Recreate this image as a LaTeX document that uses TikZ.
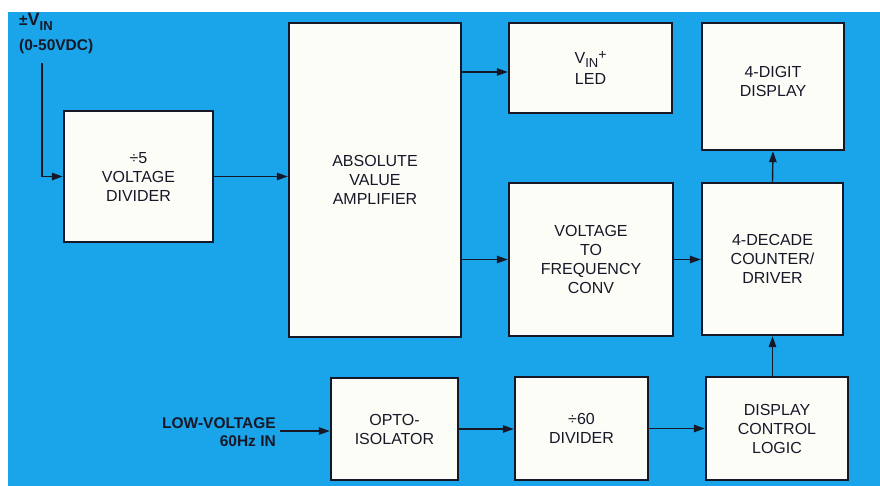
\documentclass[tikz,border=0pt]{standalone}
\usepackage{fontspec}
\setmainfont{Liberation Sans}
\usetikzlibrary{arrows.meta}
\definecolor{bgblue}{RGB}{26,165,234}
\definecolor{ink}{RGB}{22,24,40}
\definecolor{paper}{RGB}{253,253,248}
\begin{document}
\begin{tikzpicture}[x=1pt,y=-1pt,
  blk/.style={draw=ink, line width=2.4pt, fill=paper, rectangle, align=center,
    inner sep=0pt, text=ink, font=\fontsize{16}{19}\selectfont},
  arr/.style={draw=ink, line width=1.4pt, -{Triangle[length=11pt,width=7.5pt]}},
  lbl/.style={text=ink, inner sep=0pt, font=\bfseries\fontsize{15.5}{18.5}\selectfont}]
\useasboundingbox (0,0) rectangle (880,486);
\fill[white] (0,0) rectangle (880,486);
\fill[bgblue] (8,12) rectangle (880,486);

\node[blk, minimum width=149pt, minimum height=131pt] (div5) at (138.5,176.5) {÷5\\VOLTAGE\\DIVIDER};
\node[blk, minimum width=172pt, minimum height=314pt] (amp) at (375,180) {ABSOLUTE\\VALUE\\AMPLIFIER};
\node[blk, minimum width=163pt, minimum height=90pt] (led) at (590.5,68) {V\raisebox{-4pt}{\fontsize{13}{13}\selectfont IN}\raisebox{4pt}{\fontsize{14}{14}\selectfont +}\\[2pt]LED};
\node[blk, minimum width=142pt, minimum height=127pt] (disp) at (773,86.5) {4-DIGIT\\DISPLAY\\[-8pt]};
\node[blk, minimum width=164pt, minimum height=153pt] (vtf) at (591,259.5) {VOLTAGE\\TO\\FREQUENCY\\CONV};
\node[blk, minimum width=141pt, minimum height=152pt] (cnt) at (772.5,259) {4-DECADE\\COUNTER/\\DRIVER};
\node[blk, minimum width=127pt, minimum height=102pt] (opto) at (394.5,429) {OPTO-\\ISOLATOR};
\node[blk, minimum width=133pt, minimum height=103pt] (div60) at (581.5,428.5) {÷60\\DIVIDER};
\node[blk, minimum width=142pt, minimum height=103pt] (ctrl) at (777,428.5) {DISPLAY\\CONTROL\\LOGIC};

\node[lbl, anchor=west] (vinlbl) at (19,22) {±{\fontsize{18}{18}\selectfont V}\raisebox{-5pt}{\fontsize{13}{13}\selectfont IN}};
\node[lbl, anchor=west] (rng) at (19,46) {(0-50VDC)};
\node[lbl, anchor=east, align=right] (low) at (276,432) {LOW-VOLTAGE\\60Hz IN};

\coordinate (vin) at (42,63);
\coordinate (lowin) at (280,431);

\draw[arr] (vin) |- (div5.west);
\draw[arr] (div5.east) -- (div5.east -| amp.west);
\draw[arr] ([yshift=-4pt]amp.east |- led.west) -- ([yshift=-4pt]led.west);
\draw[arr] (amp.east |- vtf.west) -- (vtf.west);
\draw[arr] (vtf.east) -- (vtf.east -| cnt.west);
\draw[arr] (cnt.north) -- (disp.south);
\draw[arr] (ctrl.north -| cnt.south) -- (cnt.south);
\draw[arr] (lowin) -- (lowin -| opto.west);
\draw[arr] (opto.east) -- (opto.east -| div60.west);
\draw[arr] (div60.east) -- (div60.east -| ctrl.west);
\end{tikzpicture}
\end{document}
